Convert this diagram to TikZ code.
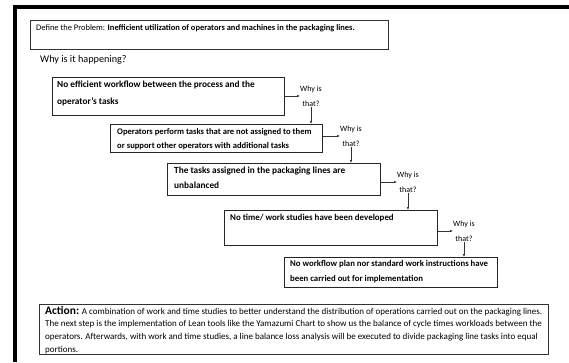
\documentclass[tikz,border=0pt]{standalone}
\usepackage{fontspec}
\setmainfont{Carlito}
\usetikzlibrary{arrows.meta}
\newcommand{\bxfont}[2]{\fontsize{#1}{#2}\selectfont\bfseries}
\begin{document}
\begin{tikzpicture}[x=1pt,y=-1pt,
  frame/.style={fill=black},
  probbox/.style={draw=black!80,line width=0.6pt},
  whybox/.style={draw=black!85,line width=0.7pt,anchor=north west,inner sep=0pt},
  boxtext/.style={anchor=north west,align=left,inner sep=0pt},
  whytext/.style={align=center,inner sep=0pt,font=\fontsize{8}{15}\selectfont},
  conn/.style={draw=black!80,line width=0.6pt,-{Latex[length=3pt,width=2.5pt]}}
]
\useasboundingbox (0,0) rectangle (569,362);
\fill[white] (0,0) rectangle (569,362);
% frame
\fill[frame] (13,5) rectangle (569,9);
\fill[frame] (13,5) rectangle (17,362);
% problem
\draw[probbox] (30,20) rectangle (388,49);
\node[anchor=north west,inner sep=0pt,font=\fontsize{8.45}{10}\selectfont] (def) at (36,24)
  {Define the Problem: \textbf{Inefficient utilization of operators and machines in the packaging lines.}};
\node[anchor=north west,inner sep=0pt,font=\fontsize{10.2}{11}\selectfont] (wh) at (40,55) {Why is it happening?};
% boxes
\node[whybox,minimum width=232pt,minimum height=38pt] (b1) at (52,77) {};
\node[whybox,minimum width=212pt,minimum height=28pt] (b2) at (110,124) {};
\node[whybox,minimum width=213pt,minimum height=32pt] (b3) at (167,163) {};
\node[whybox,minimum width=213pt,minimum height=35pt] (b4) at (224,210) {};
\node[whybox,minimum width=213pt,minimum height=30pt] (b5) at (284,257) {};
\node[boxtext,font=\bxfont{9.3}{16.5}] (t1) at (57,81) {No efficient workflow between the process and the\\operator's tasks};
\node[boxtext,font=\bxfont{8.6}{14.5}] (t2) at (117,128) {Operators perform tasks that are not assigned to them\\or support other operators with additional tasks};
\node[boxtext,font=\bxfont{9.3}{14.5}] (t3) at (174,167) {The tasks assigned in the packaging lines are\\unbalanced};
\node[boxtext,font=\bxfont{8.9}{14.5}] (t4) at (230,214) {No time/ work studies have been developed};
\node[boxtext,font=\bxfont{8.75}{15.5}] (t5) at (290,260) {No workflow plan nor standard work instructions have\\been carried out for implementation};
% why nodes
\node[whytext,anchor=west] (w1) at (300,96) {Why is\\that?};
\node[whytext,anchor=west] (w2) at (340,136) {Why is\\that?};
\node[whytext,anchor=west] (w3) at (397,182) {Why is\\that?};
\node[whytext,anchor=west] (w4) at (453,231) {Why is\\that?};
% connectors
\draw[conn] (b1.east |- w1.west) -- (w1.west);
\draw[conn] (b2.east |- w2.west) -- (w2.west);
\draw[conn] (b3.east |- w3.west) -- (w3.west);
\draw[conn] (b4.east |- w4.west) -- (w4.west);
\draw[conn] (w1.south) -- (w1.south |- b2.north);
\draw[conn] (w2.south) -- (w2.south |- b3.north);
\draw[conn] (w3.south) -- (w3.south |- b4.north);
\draw[conn] (w4.south) -- (w4.south |- b5.north);
% action
\node[probbox,minimum width=509pt,minimum height=50pt,anchor=north west,inner sep=0pt] (act) at (39,304) {};
\node[anchor=north west,align=left,inner sep=0pt,font=\fontsize{9}{12.6}\selectfont] (at) at (45,306)
  {{\fontsize{11.5}{12.6}\selectfont\bfseries Action:} A combination of work and time studies to better understand the distribution of operations carried out on the packaging lines.\\
  The next step is the implementation of Lean tools like the Yamazumi Chart to show us the balance of cycle times workloads between the\\
  operators. Afterwards, with work and time studies, a line balance loss analysis will be executed to divide packaging line tasks into equal\\
  portions.};
\end{tikzpicture}
\end{document}
